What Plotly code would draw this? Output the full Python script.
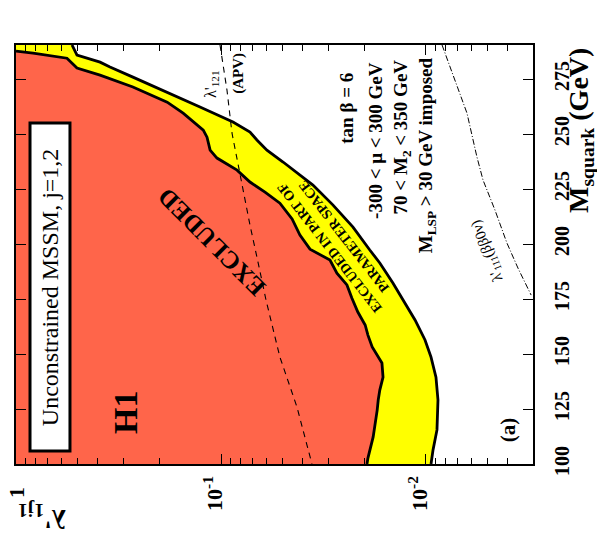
import math
import plotly.graph_objects as go

# ---------------- data (lambda'_1j1 vs M_squark in GeV) ----------------
# H1 excluded region boundary (red)
red_M = [287.7, 286.8, 284.5, 282.3, 280.0, 276.8, 271.4, 264.5, 259.5, 251.8, 248.6, 242.7,
         239.1, 233.6, 228.2, 223.6, 218.6, 211.4, 204.1, 197.7, 192.7, 186.8, 181.4, 175.5,
         169.1, 163.2, 158.6, 153.2, 145.9, 139.5, 133.6, 129.1, 124.5, 112.3, 106.4, 102.7, 100.0]
red_lam = [1.0, 0.826, 0.564, 0.533, 0.504, 0.389, 0.269, 0.183, 0.153, 0.122, 0.117, 0.113,
           0.1046, 0.0835, 0.0722, 0.0610, 0.0516, 0.0450, 0.0412, 0.0368, 0.0294, 0.0272, 0.0243, 0.0230,
           0.0215, 0.0198, 0.0192, 0.0183, 0.0164, 0.0162, 0.0168, 0.0171, 0.0173, 0.0181, 0.0188, 0.0192, 0.0194]

# excluded in part of parameter space (yellow) outer boundary
yel_M = [290.5, 285.9, 282.7, 280.5, 275.9, 269.1, 262.3, 255.5, 250.9, 247.3, 242.7, 237.3,
         231.4, 226.8, 217.7, 207.7, 197.3, 191.4, 182.3, 173.2, 165.5, 156.4, 148.6, 139.5,
         129.1, 115.5, 106.4, 100.0]
yel_lam = [0.533, 0.504, 0.389, 0.348, 0.269, 0.183, 0.1266, 0.0874, 0.0722, 0.0668, 0.0597, 0.0498,
           0.0412, 0.0356, 0.0284, 0.0227, 0.0188, 0.0168, 0.0145, 0.01266, 0.01131, 0.01011, 0.00945, 0.00894,
           0.00874, 0.00884, 0.00924, 0.00945]

# lambda'_121 (APV) limit
apv_M = [290.5, 270.0, 250.5, 231.4, 208.6, 191.8, 174.5, 148.6, 125.9, 100.0]
apv_lam = [0.1011, 0.0935, 0.0884, 0.0808, 0.0722, 0.0660, 0.0603, 0.0516, 0.0426, 0.0360]

# lambda'_111 (beta beta 0 nu) limit
bb_M = [290.5, 274.5, 259.5, 239.5, 229.1, 215.5, 200.5, 189.1, 176.8]
bb_lam = [0.00835, 0.00722, 0.00631, 0.00564, 0.00527, 0.00461, 0.00403, 0.00356, 0.00307]

# axes
x_tickvals = [1, 0.1, 0.01]
x_ticktext = ["1", "10<sup>-1</sup>", "10<sup>-2</sup>"]
x_minor = [0.9, 0.8, 0.7, 0.6, 0.5, 0.4, 0.3, 0.2,
           0.09, 0.08, 0.07, 0.06, 0.05, 0.04, 0.03, 0.02,
           0.009, 0.008, 0.007, 0.006, 0.005, 0.004, 0.003]
y_tickvals = [100, 125, 150, 175, 200, 225, 250, 275]
M_MIN, M_MAX = 100, 290.5
LOG_MIN, LOG_MAX = -2.522, 0.0

SERIF = "Liberation Serif, Times New Roman, serif"
RED = "#ff654a"
YELLOW = "#ffff00"
PLOT_W = 517  # plot-area width in px (597 - 16 - 64)

fig = go.Figure()

# yellow band (outer boundary closed to the plot's left edge)
fig.add_trace(go.Scatter(x=yel_lam + [1, 1], y=yel_M + [M_MIN, M_MAX], mode="lines",
                         fill="toself", fillcolor=YELLOW, line=dict(width=0),
                         hoverinfo="skip", showlegend=False))
# red excluded region
fig.add_trace(go.Scatter(x=red_lam + [1], y=red_M + [M_MIN], mode="lines",
                         fill="toself", fillcolor=RED, line=dict(width=0),
                         hoverinfo="skip", showlegend=False))
# boundary lines
fig.add_trace(go.Scatter(x=yel_lam, y=yel_M, mode="lines", line=dict(color="black", width=2.8),
                         showlegend=False))
fig.add_trace(go.Scatter(x=red_lam, y=red_M, mode="lines", line=dict(color="black", width=2.8),
                         showlegend=False))
# limit curves
fig.add_trace(go.Scatter(x=apv_lam, y=apv_M, mode="lines",
                         line=dict(color="black", width=1.1, dash="6px,5px"), showlegend=False))
fig.add_trace(go.Scatter(x=bb_lam, y=bb_M, mode="lines",
                         line=dict(color="black", width=1.0, dash="6px,2px,1px,2px"), showlegend=False))

fig.update_layout(
    xaxis=dict(type="log", range=[LOG_MAX, LOG_MIN], tickmode="array",
               tickvals=x_tickvals, showticklabels=False,
               ticks="inside", ticklen=10, tickwidth=1.3, tickcolor="black",
               showline=True, linecolor="black", linewidth=2, mirror="ticks",
               showgrid=False, zeroline=False, automargin=False,
               minor=dict(tickvals=x_minor, ticks="inside", ticklen=6, tickwidth=1.2,
                          tickcolor="black", showgrid=False)),
    yaxis=dict(range=[M_MIN, M_MAX], tickmode="array", tickvals=y_tickvals, side="right",
               ticks="inside", ticklen=10, tickwidth=1.3, tickcolor="black", tickangle=-90,
               ticklabelstandoff=10,
               showline=True, linecolor="black", linewidth=2, mirror="ticks",
               showgrid=False, zeroline=False, automargin=False,
               tickfont=dict(family=SERIF, size=20, color="black", weight="bold")),
)

# rotated tick labels of the lambda' axis, placed from the axis tick values
x_label_shift = [1, -8, -8]
for v, t, dx in zip(x_tickvals, x_ticktext, x_label_shift):
    px = (math.log10(v) - LOG_MAX) / (LOG_MIN - LOG_MAX) + dx / PLOT_W
    fig.add_annotation(text=t, x=px, xref="paper", y=-0.069, yref="paper",
                       showarrow=False, textangle=-90, xanchor="center", yanchor="middle",
                       font=dict(family=SERIF, size=22, color="black", weight="bold"))

# label box
fig.add_shape(type="rect", xref="paper", yref="paper", x0=0.0271, x1=0.1044, y0=0.031, y1=0.814,
              line=dict(color="black", width=3), fillcolor="white", layer="above")


def ann(text, x, y, angle, size, bold=True, **kw):
    fig.add_annotation(text=text, x=x, y=y, xref="paper", yref="paper", showarrow=False,
                       textangle=angle, xanchor="center", yanchor="middle",
                       font=dict(family=SERIF, size=size, color="black",
                                 weight="bold" if bold else "normal"), **kw)


ann("Unconstrained MSSM, j=1,2", 0.0658, 0.422, -90, 24, bold=False)
ann("H1", 0.213, 0.122, -90, 34)
ann("EXCLUDED", 0.379, 0.530, -135, 25)
ann("EXCLUDED IN PART OF<br>PARAMETER SPACE", 0.621, 0.530, -128, 14)
ann("tan β = 6", 0.640, 0.850, -90, 19)
ann("-300 < μ < 300 GeV", 0.694, 0.773, -90, 19)
ann("70 < M<sub>2</sub> < 350 GeV", 0.747, 0.780, -90, 19)
ann("M<sub>LSP</sub> > 30 GeV imposed", 0.795, 0.737, -90, 19)
ann("(a)", 0.952, 0.081, -90, 21)
ann("λ'<sub>121</sub>", 0.379, 0.907, -90, 16, bold=False)
ann("(APV)", 0.429, 0.933, -90, 15)
ann("λ'<sub>111</sub>(ββ0ν)", 0.911, 0.511, -111, 15, bold=False)
ann("λ'<sub>1j1</sub>", 0.050, -0.129, 180, 28)
ann("M<sub>squark</sub> (GeV)", 1.093, 0.795, -90, 28)

fig.update_layout(width=597, height=545, margin=dict(l=16, r=64, t=45, b=81, autoexpand=False),
                  paper_bgcolor="white", plot_bgcolor="white", showlegend=False)

fig.write_html("out.html", config={"displayModeBar": False},
               post_script="document.body.style.margin='0';document.body.style.overflow='hidden';")
